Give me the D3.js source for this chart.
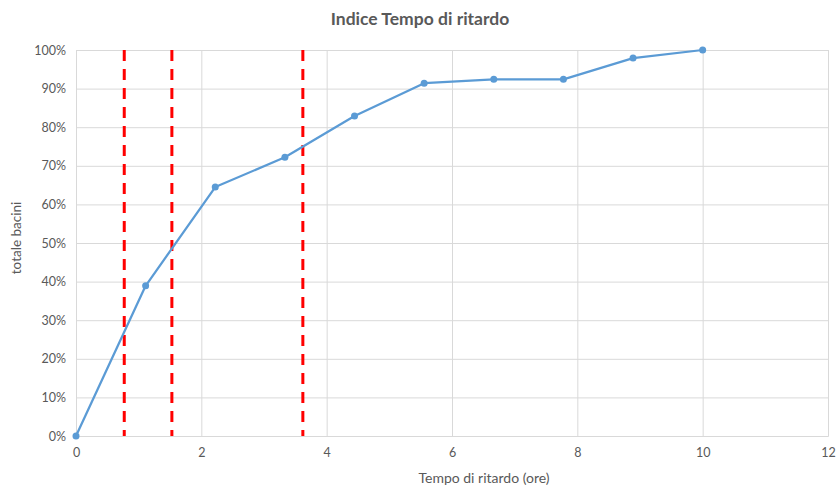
<!DOCTYPE html>
<html>
<head>
<meta charset="utf-8">
<script src="https://cdn.jsdelivr.net/npm/d3@7"></script>
<style>
  html, body { margin: 0; padding: 0; background: #fff; }
  text { font-family: Lato, "Open Sans", sans-serif; }
</style>
</head>
<body>
<svg id="chart" width="836" height="489"></svg>
<script>
// Retention-time index: cumulative share of basins versus lag time (hours)
const lagHours = [0, 10/9, 20/9, 30/9, 40/9, 50/9, 60/9, 70/9, 80/9, 10];
const basinShare = [0, 0.389, 0.645, 0.722, 0.829, 0.914, 0.924, 0.924, 0.979, 1.0];
const thresholdHours = [0.77, 1.53, 3.62];
const xTicks = [0, 2, 4, 6, 8, 10, 12];
const yTicks = [0, 0.1, 0.2, 0.3, 0.4, 0.5, 0.6, 0.7, 0.8, 0.9, 1.0];

const svg = d3.select("#chart");
const margin = { left: 76, right: 8, top: 50, bottom: 53 };
const W = 836, H = 489;

const x = d3.scaleLinear().domain([0, 12]).range([margin.left, W - margin.right]);
const y = d3.scaleLinear().domain([0, 1]).range([H - margin.bottom, margin.top]);

const grid = "#d9d9d9", textCol = "#595959";

// horizontal gridlines
svg.append("g")
  .attr("transform", `translate(${margin.left},0)`)
  .call(d3.axisLeft(y).tickValues(yTicks).tickSize(-(W - margin.left - margin.right)).tickFormat(d3.format(".0%")).tickPadding(10))
  .call(g => g.select(".domain").remove())
  .call(g => g.selectAll("line").attr("stroke", grid).attr("stroke-width", 1))
  .call(g => g.selectAll("text").attr("fill", textCol).attr("font-size", 12.5));

// vertical gridlines
svg.append("g")
  .attr("transform", `translate(0,${H - margin.bottom})`)
  .call(d3.axisBottom(x).tickValues(xTicks).tickSize(-(H - margin.top - margin.bottom)).tickFormat(d3.format("d")).tickPadding(12))
  .call(g => g.select(".domain").attr("stroke", grid))
  .call(g => g.selectAll("line").attr("stroke", grid).attr("stroke-width", 1))
  .call(g => g.selectAll("text").attr("fill", textCol).attr("font-size", 12.5));

// threshold lines
svg.append("g").selectAll("line").data(thresholdHours).join("line")
  .attr("x1", d => x(d)).attr("x2", d => x(d))
  .attr("y1", y(1)).attr("y2", y(0))
  .attr("stroke", "#ff0000").attr("stroke-width", 3)
  .attr("stroke-dasharray", "11 8");

const pts = lagHours.map((h, i) => [h, basinShare[i]]);

svg.append("path")
  .datum(pts)
  .attr("fill", "none")
  .attr("stroke", "#5b9bd5")
  .attr("stroke-width", 2.25)
  .attr("stroke-linejoin", "round")
  .attr("d", d3.line().x(d => x(d[0])).y(d => y(d[1])));

svg.append("g").selectAll("circle").data(pts).join("circle")
  .attr("cx", d => x(d[0])).attr("cy", d => y(d[1]))
  .attr("r", 3.5).attr("fill", "#5b9bd5");

// title and axis labels
svg.append("text").attr("x", 420).attr("y", 25).attr("text-anchor", "middle")
  .attr("font-size", 17.5).attr("font-weight", "bold").attr("fill", textCol)
  .text("Indice Tempo di ritardo");

svg.append("text").attr("x", 484).attr("y", 483).attr("text-anchor", "middle")
  .attr("font-size", 14).attr("fill", textCol)
  .text("Tempo di ritardo (ore)");

svg.append("text").attr("transform", `translate(21,238) rotate(-90)`).attr("text-anchor", "middle")
  .attr("font-size", 13.5).attr("fill", textCol)
  .text("totale bacini");
</script>
</body>
</html>
